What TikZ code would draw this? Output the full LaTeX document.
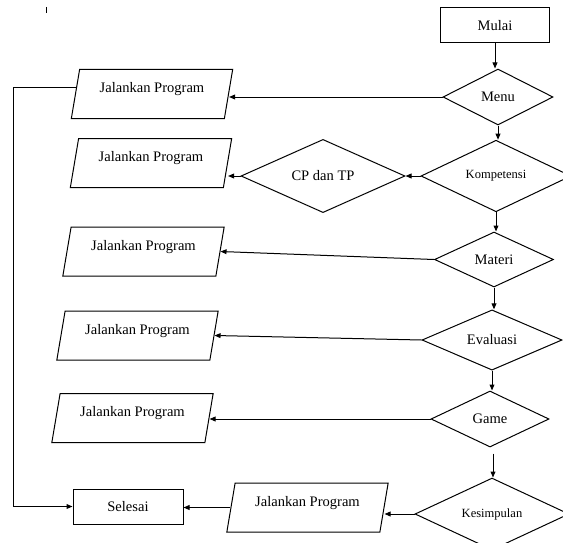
\documentclass[tikz,border=0pt]{standalone}
\usepackage{fontspec}
\setmainfont{Liberation Serif}
\usetikzlibrary{shapes.geometric,arrows.meta}
\begin{document}
\begin{tikzpicture}[x=0.75pt,y=-0.75pt,
  font=\fontsize{10.9pt}{13pt}\selectfont,
  line width=0.75pt,
  procbox/.style={draw, rectangle, inner sep=0pt, minimum width=82pt, minimum height=26.25pt},
  decision/.style={draw, diamond, inner sep=0pt},
  iobox/.style={draw, trapezium, trapezium left angle=76, trapezium right angle=104,
    trapezium stretches=true, inner sep=0pt, minimum width=121.5pt, minimum height=36.75pt,
    text height=8pt, text depth=10pt},
  arr/.style={-{Triangle[length=4.5pt,width=3.6pt]}},
  smalltext/.style={font=\fontsize{9.4pt}{11pt}\selectfont}]
\useasboundingbox (0,0) rectangle (563,542);
\clip (0,0) rectangle (563,542);
% stray tick mark
\draw (46,7) -- (46,13);
% nodes
\node[procbox] (mulai) at (495,25.5) {Mulai};
\node[decision, minimum width=82.5pt, minimum height=42pt] (menu) at (498,97) {Menu};
\node[decision, minimum width=112.5pt, minimum height=42pt, smalltext] (komp) at (496,176) {Kompetensi};
\node[decision, minimum width=123pt, minimum height=42.75pt] (cp) at (323,176) {CP dan TP};
\node[decision, minimum width=89.25pt, minimum height=41.25pt] (materi) at (494,259.5) {Materi};
\node[decision, minimum width=105pt, minimum height=42pt] (eval) at (492,340) {Evaluasi};
\node[decision, minimum width=88.5pt, minimum height=42pt] (game) at (490,419) {Game};
\node[decision, minimum width=115.5pt, minimum height=42pt, smalltext] (kes) at (492,514) {Kesimpulan};
\node[iobox] (jp1) at (152,94) {Jalankan Program};
\node[iobox] (jp2) at (151,163) {Jalankan Program};
\node[iobox] (jp3) at (143.5,251.5) {Jalankan Program};
\node[iobox] (jp4) at (137.5,335.5) {Jalankan Program};
\node[iobox] (jp5) at (132.5,418) {Jalankan Program};
\node[iobox] (jp6) at (307.5,507.5) {Jalankan Program};
\node[procbox, minimum width=82.5pt] (selesai) at (128,506.5) {Selesai};
\coordinate (lx) at (13,0);
% connectors
\draw[arr] (mulai.south) -- (mulai.south |- menu.north);
\draw[arr] (menu.south) -- (menu.south |- komp.north);
\draw[arr] (komp.south) -- (komp.south |- materi.north);
\draw[arr] (materi.south) -- (materi.south |- eval.north);
\draw[arr] (eval.south) -- (eval.south |- game.north);
\draw[arr, shorten <=4.5pt] ([xshift=2.25pt]game.south) -- ([xshift=2.25pt]game.south |- kes.north);
\draw[arr] (menu.west) -- (menu.west -| jp1.right side);
\draw[arr] (komp.west) -- (komp.west -| cp.east);
\draw[arr] (cp.west) -- (cp.west -| jp2.right side);
\draw[arr] (materi.west) -- (jp3.right side);
\draw[arr] (eval.west) -- (jp4.right side);
\draw[arr] (game.west) -- (game.west -| jp5.right side);
\draw[arr] (kes.west) -- (kes.west -| jp6.right side);
\draw[arr] (jp6.left side) -- (jp6.left side -| selesai.east);
\draw[arr] ([xshift=1.3pt,yshift=5.25pt]jp1.left side) -- ([yshift=5.25pt]jp1.left side -| lx) |- (selesai.west);
\end{tikzpicture}
\end{document}
